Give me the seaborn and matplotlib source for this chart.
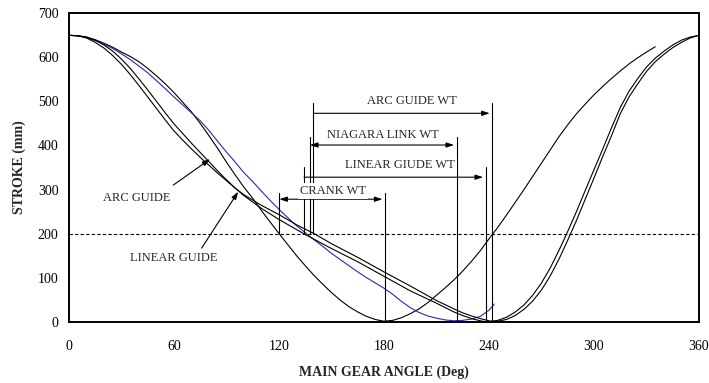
import pandas as pd
import seaborn as sns
import matplotlib.pyplot as plt

# stroke curves (main gear angle in deg, stroke in mm)
crank_deg = [0, 5, 10, 15, 20, 25, 30, 35, 40, 45, 50, 55, 60, 65, 70, 75, 80,
             85, 90, 95, 100, 105, 110, 115, 120, 125, 130, 135, 140, 145, 150,
             155, 160, 165, 170, 175, 180, 185, 190, 195, 200, 205, 210, 215,
             220, 225, 230, 235, 240, 245, 250, 255, 260, 265, 270, 275, 280,
             285, 290, 295, 300, 305, 310, 315, 320, 325, 330, 335]
crank_mm = [650, 649, 646, 640, 632, 623, 612, 602, 590, 575, 558, 540, 520, 498,
            476, 450, 422, 393, 362, 333, 305, 280, 252, 226, 200, 175, 150,
            127, 105, 85, 66, 49, 34, 22, 12, 5, 1, 3, 9, 18, 29, 43, 60, 77,
            95, 115, 137, 161, 188, 214, 242, 271, 300, 330, 360, 390, 420,
            447, 472, 494, 515, 534, 552, 569, 585, 599, 612, 624]

niagara_deg = [0, 5, 10, 15, 20, 25, 30, 35, 40, 45, 50, 55, 60, 65, 70, 75, 80,
               85, 90, 95, 100, 105, 110, 115, 120, 125, 130, 135, 140, 145, 150,
               155, 160, 165, 170, 175, 180, 185, 190, 195, 200, 205, 210, 215,
               220, 225, 230, 235, 240, 243]
niagara_mm = [650, 649, 645, 638, 630, 620, 608, 595, 580, 565, 547, 529, 510, 492,
              474, 456, 434, 409, 385, 362, 338, 318, 296, 275, 255, 236, 218,
              202, 186, 171, 155, 141, 127, 113, 100, 88, 76, 62, 46, 32, 21,
              13, 8, 4, 2, 3, 6, 12, 26, 40]

arc_deg = [0, 5, 10, 15, 20, 25, 30, 35, 40, 45, 50, 55, 60, 65, 70, 75, 80, 85,
           90, 95, 100, 110, 120, 130, 140, 150, 165, 180, 195, 210, 220, 225,
           230, 235, 240, 242, 245, 250, 255, 260, 265, 270, 275, 280, 285, 290,
           295, 300, 305, 310, 315, 320, 325, 330, 335, 340, 345, 350, 355, 360]
arc_mm = [650, 649, 644, 634, 621, 604, 584, 561, 536, 510, 484, 458, 433, 412,
          392, 373, 355, 337, 320, 303, 288, 264, 243, 220, 200, 177, 146, 113,
          81, 48, 29, 20, 13, 7, 2, 0, 1, 5, 14, 28, 47, 72, 104, 142, 185,
          230, 278, 326, 375, 422, 472, 510, 540, 568, 590, 607, 622, 634, 644,
          650]

linear_deg = [0, 5, 10, 15, 20, 25, 30, 35, 40, 45, 50, 55, 60, 65, 70, 75, 80,
              85, 90, 95, 100, 110, 120, 134, 150, 165, 180, 195, 210, 220, 225,
              230, 235, 238, 240, 245, 250, 255, 260, 265, 270, 275, 280, 285,
              290, 295, 300, 305, 310, 315, 320, 325, 330, 335, 340, 345, 350,
              355, 360]
linear_mm = [650, 649, 646, 639, 628, 614, 596, 575, 551, 526, 500, 474, 449, 427,
             405, 384, 363, 342, 322, 303, 286, 257, 232, 200, 166, 136, 103, 70,
             42, 22, 14, 7, 2, 0, 0.5, 3, 10, 22, 38, 60, 88, 122, 162, 205, 250,
             298, 345, 392, 440, 486, 523, 552, 578, 598, 614, 628, 639, 646, 650]

threshold = 200

# waiting-time brackets: name, start, end, arrow level, top of the verticals
wt_names = ['CRANK WT', 'LINEAR GIUDE WT', 'NIAGARA LINK WT', 'ARC GUIDE WT']
wt_start = [120.2, 134.3, 137.7, 139.6]
wt_end = [180.6, 238.1, 221.5, 241.9]
wt_level = [278, 328, 401, 473]
wt_top = [293, 352, 420, 496]
wt_heads = ['<|-|>', '<|-', '<|-|>', '<|-']
wt_text_x = [150.9, 189.0, 179.6, 195.8]

sns.set_style('white')
plt.rcParams['font.family'] = ['Liberation Serif', 'DejaVu Serif']

fig = plt.figure(figsize=(7.09, 3.83), dpi=100)
ax = fig.add_axes([0.0973, 0.1601, 0.8886, 0.8052])

curves = [(crank_deg, crank_mm, 'black'),
          (niagara_deg, niagara_mm, '#2a2aa8'),
          (arc_deg, arc_mm, 'black'),
          (linear_deg, linear_mm, 'black')]
for xs, ys, col in curves:
    sns.lineplot(x=xs, y=ys, ax=ax, color=col, lw=0.8, sort=False,
                 estimator=None)

ax.axhline(threshold, color='black', lw=0.8, ls=(0, (3, 2)))

# WT brackets
head = ',head_length=0.45,head_width=0.15'
for name, s, e, lev, top, hd, tx in zip(wt_names, wt_start, wt_end, wt_level,
                                        wt_top, wt_heads, wt_text_x):
    ax.plot([s, s], [threshold, top], color='black', lw=0.8)
    ax.plot([e, e], [0, top], color='black', lw=0.8)
    ax.annotate('', xy=(s, lev), xytext=(e - 1.5, lev),
                arrowprops=dict(arrowstyle=hd + head, color='black', lw=0.8,
                                shrinkA=0, shrinkB=0, mutation_scale=10))
    ax.text(tx, top + 4, name, ha='center', va='center', fontsize=9, zorder=5,
            bbox=dict(facecolor='white', edgecolor='none', pad=1.5))

# curve labels
ax.text(39, 280, 'ARC GUIDE', ha='center', va='center', fontsize=9)
ax.annotate('', xy=(80.6, 369), xytext=(59.6, 310),
            arrowprops=dict(arrowstyle='-|>' + head, color='black', lw=0.8,
                            shrinkA=0, shrinkB=0, mutation_scale=10))
ax.text(59.6, 144, 'LINEAR GUIDE', ha='center', va='center', fontsize=9)
ax.annotate('', xy=(96.7, 295), xytext=(75.8, 167),
            arrowprops=dict(arrowstyle='-|>' + head, color='black', lw=0.8,
                            shrinkA=0, shrinkB=0, mutation_scale=10))

ax.set_xlim(0, 360)
ax.set_ylim(0, 700)
ax.set_xticks(range(0, 361, 60))
ax.set_yticks(range(0, 701, 100))
ax.tick_params(axis='both', direction='in', length=4, width=0.8,
               labelsize=10, colors='black')
ax.tick_params(axis='x', pad=13)
ax.tick_params(axis='y', pad=7.5)
for sp in ax.spines.values():
    sp.set_visible(True)
    sp.set_color('black')
    sp.set_linewidth(1.4)

ax.set_xlabel('MAIN GEAR ANGLE (Deg)', fontsize=10, fontweight='bold')
ax.set_ylabel('STROKE (mm)', fontsize=10, fontweight='bold')
ax.xaxis.set_label_coords(0.5, -0.143)
ax.yaxis.set_label_coords(-0.068, 0.5)

fig.savefig('out.png', dpi=100)
